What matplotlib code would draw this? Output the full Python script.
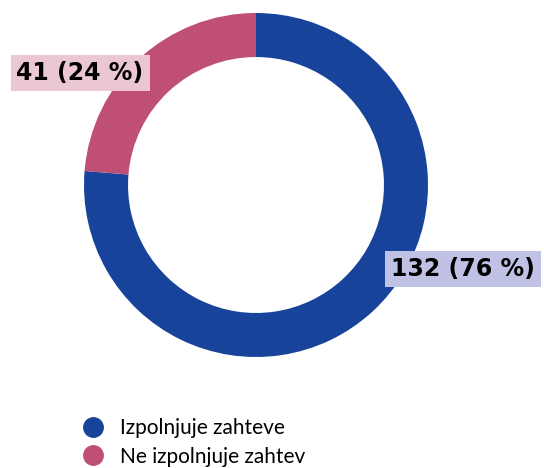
import matplotlib.pyplot as plt
from matplotlib.lines import Line2D

categories = ['Izpolnjuje zahteve', 'Ne izpolnjuje zahtev']
values = [132, 41]
percents = [76, 24]
colors = ['#17439b', '#bf4f74']
box_colors = ['#bfc1e5', '#ebc7d4']

W, H = 544, 468
fig = plt.figure(figsize=(W / 100, H / 100), dpi=100)

# donut centre (256,185) px, outer radius 172 px
cx, cy, r = 256, 185, 172
ax = fig.add_axes([(cx - r) / W, (H - cy - r) / H, 2 * r / W, 2 * r / H])

wedges, _ = ax.pie(values, colors=colors, startangle=90, counterclock=False,
                   radius=1, wedgeprops=dict(width=0.256, linewidth=0))
ax.set_xlim(-1, 1)
ax.set_ylim(-1, 1)
ax.set_aspect('equal')
ax.axis('off')

# label positions (data units)
label_pos = [(1.203, -0.488), (-1.023, 0.651)]
for i, (x, y) in enumerate(label_pos):
    ax.text(x, y, '%d (%d %%)' % (values[i], percents[i]), ha='center', va='center',
            fontsize=17, fontweight='bold', color='black', clip_on=False,
            bbox=dict(boxstyle='square,pad=0.25', facecolor=box_colors[i], edgecolor='none'))

handles = [Line2D([0], [0], marker='o', linestyle='none', markersize=14,
                  markerfacecolor=c, markeredgecolor=c) for c in colors]
fig.legend(handles, categories, loc='upper left', bbox_to_anchor=(64 / W, 1 - 410 / H),
           frameon=False, handletextpad=0.3, labelspacing=0.4,
           borderaxespad=0, prop={'family': 'Lato', 'size': 15})

fig.savefig('out.png', dpi=100)
